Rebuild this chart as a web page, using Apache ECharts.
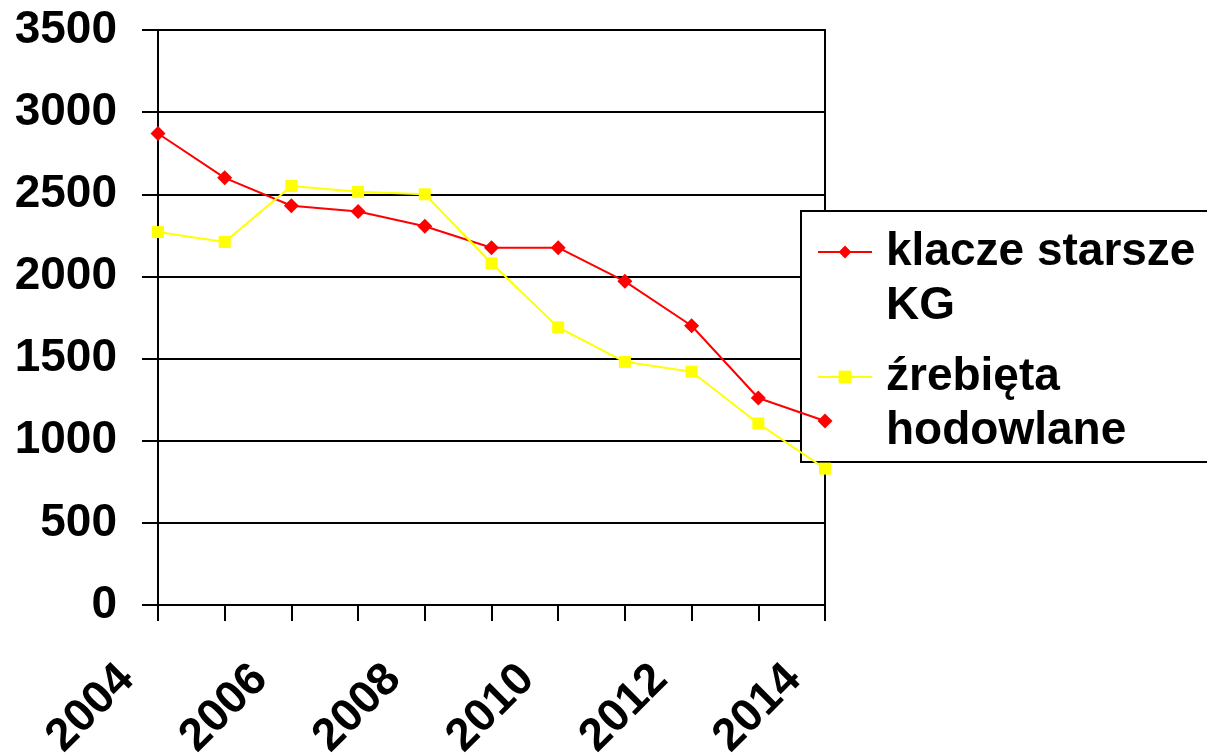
<!DOCTYPE html>
<html>
<head>
<meta charset="utf-8">
<script src="https://cdn.jsdelivr.net/npm/echarts@6/dist/echarts.min.js"></script>
<style>
html,body{margin:0;padding:0;background:#fff;}
#chart{width:1207px;height:756px;}
</style>
</head>
<body>
<div id="chart"></div>
<script>
var years = ['2004','2005','2006','2007','2008','2009','2010','2011','2012','2013','2014'];
var klaczeStarsze = [2870, 2600, 2430, 2395, 2305, 2175, 2175, 1970, 1700, 1260, 1120];
var zrebietaHodowlane = [2270, 2210, 2550, 2515, 2500, 2080, 1690, 1480, 1420, 1105, 830];
var seriesNames = ['klacze starsze\nKG', 'źrebięta\nhodowlane'];
var yMin = 0, yMax = 3500, yStep = 500;

var FONT = "'Liberation Sans', Arial, sans-serif";
var chart = echarts.init(document.getElementById('chart'), null, {renderer: 'canvas'});
chart.setOption({
  animation: false,
  backgroundColor: '#ffffff',
  grid: {
    left: 158, right: 382, top: 30, bottom: 151,
    outerBoundsMode: 'none', containLabel: false,
    show: true, borderColor: '#000', borderWidth: 2, backgroundColor: 'transparent'
  },
  xAxis: {
    type: 'category',
    data: years,
    boundaryGap: false,
    axisLine: {show: true, lineStyle: {color: '#000', width: 2}},
    axisTick: {show: true, interval: 0, length: 16, lineStyle: {color: '#000', width: 2}},
    axisLabel: {
      interval: 1, rotate: 45, margin: 36, padding: [0, 44, 0, 0],
      fontFamily: FONT, fontWeight: 'bold', fontSize: 46, color: '#000'
    },
    splitLine: {show: false}
  },
  yAxis: {
    type: 'value',
    min: yMin, max: yMax, interval: yStep,
    axisLine: {show: true, lineStyle: {color: '#000', width: 2}},
    axisTick: {show: true, length: 16, lineStyle: {color: '#000', width: 2}},
    axisLabel: {
      margin: 41, fontFamily: FONT, fontWeight: 'bold', fontSize: 46, color: '#000',
      formatter: function (v) { return String(v); }
    },
    splitLine: {show: true, lineStyle: {color: '#000', width: 2}}
  },
  legend: {
    orient: 'vertical',
    left: 817, top: 171,
    padding: 0,
    itemGap: -37,
    itemWidth: 54, itemHeight: 16,
    data: seriesNames,
    formatter: function (name) { return ' \n' + name; },
    textStyle: {
      fontFamily: FONT, fontWeight: 'bold', fontSize: 46, color: '#000',
      lineHeight: 54, padding: [0, 0, 0, 9]
    }
  },
  graphic: [{
    type: 'rect', z: 1,
    shape: {x: 801, y: 211, width: 430, height: 251},
    style: {fill: '#fff', stroke: '#000', lineWidth: 2}
  }],
  series: [
    {
      name: seriesNames[0], type: 'line', data: klaczeStarsze,
      symbol: 'diamond', symbolSize: 15, z: 3,
      itemStyle: {color: '#ff0000'},
      lineStyle: {color: '#ff0000', width: 2}
    },
    {
      name: seriesNames[1], type: 'line', data: zrebietaHodowlane,
      symbol: 'rect', symbolSize: 12, z: 3,
      itemStyle: {color: '#ffff00'},
      lineStyle: {color: '#ffff00', width: 2}
    }
  ]
});
</script>
</body>
</html>
